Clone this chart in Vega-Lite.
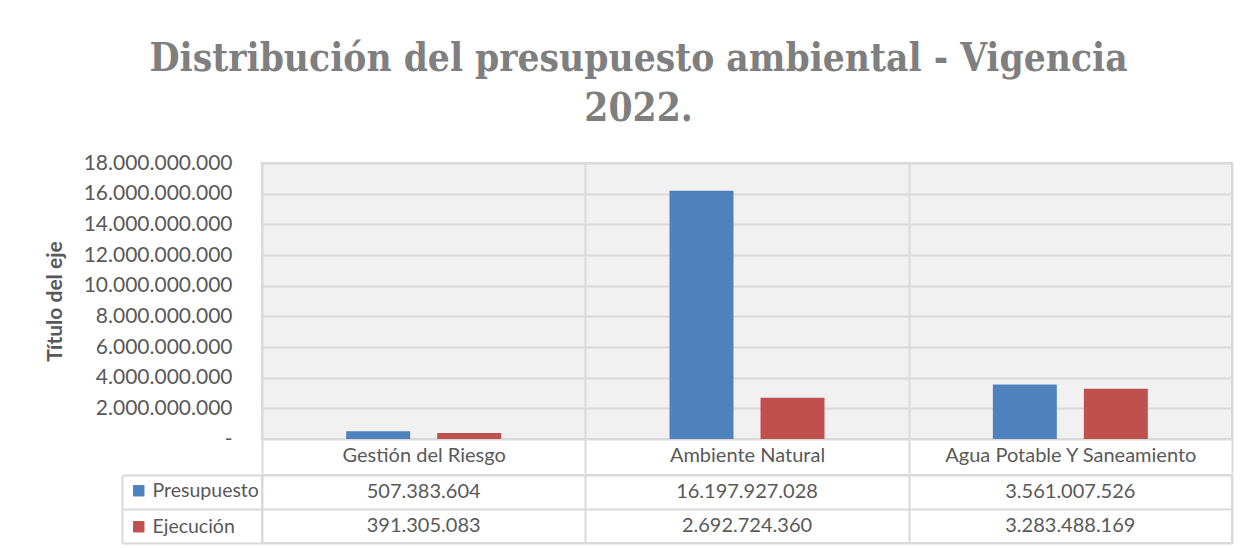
{
  "$schema": "https://vega.github.io/schema/vega-lite/v6.json",
  "padding": {"left": 43, "top": 39, "right": 6, "bottom": 6},
  "background": "white",
  "title": {
    "text": ["Distribución del presupuesto ambiental - Vigencia", "2022."],
    "font": "DejaVu Serif Condensed",
    "fontWeight": "bold",
    "fontSize": 38.5,
    "color": "#7f7f7f",
    "lineHeight": 50,
    "anchor": "middle",
    "offset": 22
  },
  "data": {
    "values": [
      {"categoria": "Gestión del Riesgo", "serie": "Presupuesto", "valor": 507383604},
      {"categoria": "Gestión del Riesgo", "serie": "Ejecución", "valor": 391305083},
      {"categoria": "Ambiente Natural", "serie": "Presupuesto", "valor": 16197927028},
      {"categoria": "Ambiente Natural", "serie": "Ejecución", "valor": 2692724360},
      {"categoria": "Agua Potable Y Saneamiento", "serie": "Presupuesto", "valor": 3561007526},
      {"categoria": "Agua Potable Y Saneamiento", "serie": "Ejecución", "valor": 3283488169}
    ]
  },
  "spacing": -6,
  "resolve": {"scale": {"color": "independent"}},
  "vconcat": [
    {
      "width": 970,
      "height": 276,
      "view": {"fill": "#f1f1f1", "stroke": "#d9d9d9", "strokeWidth": 2},
      "mark": {"type": "bar"},
      "encoding": {
        "x": {
          "field": "categoria", "type": "nominal",
          "sort": ["Gestión del Riesgo", "Ambiente Natural", "Agua Potable Y Saneamiento"],
          "scale": {"paddingInner": 0, "paddingOuter": 0},
          "axis": {
            "title": null, "domain": false, "grid": true, "gridColor": "#d9d9d9", "gridWidth": 2,
            "tickBand": "extent", "ticks": true, "tickSize": 34, "tickColor": "#d9d9d9", "tickWidth": 2,
            "labelPadding": -28, "labelFont": "Lato", "labelFontSize": 20, "labelColor": "#595959", "labelAngle": 0, "labelLimit": 0
          }
        },
        "xOffset": {
          "field": "serie", "type": "nominal", "sort": ["Presupuesto", "Ejecución"],
          "scale": {"paddingInner": 0.297, "paddingOuter": 0.925}
        },
        "y": {
          "field": "valor", "type": "quantitative",
          "scale": {"domain": [0, 18000000000], "nice": false},
          "axis": {
            "values": [0, 2000000000, 4000000000, 6000000000, 8000000000, 10000000000, 12000000000, 14000000000, 16000000000, 18000000000],
            "format": ",d",
            "labelExpr": "datum.value === 0 ? '-' : datum.label",
            "title": "Título del eje",
            "titleFont": "Lato", "titleFontWeight": "bold", "titleFontSize": 21, "titleColor": "#595959", "titlePadding": 18,
            "labelFont": "Lato", "labelFontSize": 21, "labelColor": "#595959", "labelPadding": 30,
            "domain": false, "ticks": false,
            "grid": true, "gridColor": "#d9d9d9", "gridWidth": 2
          }
        },
        "color": {
          "field": "serie", "type": "nominal", "sort": ["Presupuesto", "Ejecución"],
          "scale": {"range": ["#4f81bd", "#c0504d"]},
          "legend": null
        }
      }
    },
    {
      "width": 970,
      "height": 68,
      "view": {"fill": "white", "stroke": "#d9d9d9", "strokeWidth": 2},
      "encoding": {
        "x": {
          "field": "categoria", "type": "nominal",
          "sort": ["Gestión del Riesgo", "Ambiente Natural", "Agua Potable Y Saneamiento"],
          "scale": {"paddingInner": 0, "paddingOuter": 0},
          "axis": {"title": null, "labels": false, "ticks": false, "domain": false, "grid": true, "tickBand": "extent", "gridColor": "#d9d9d9", "gridWidth": 2}
        },
        "y": {
          "field": "serie", "type": "nominal", "sort": ["Presupuesto", "Ejecución"],
          "scale": {"paddingInner": 0, "paddingOuter": 0},
          "axis": {
            "title": null, "labels": false, "offset": 140,
            "domain": true, "domainColor": "#d9d9d9", "domainWidth": 2,
            "ticks": true, "tickSize": -140, "tickColor": "#d9d9d9", "tickWidth": 2, "tickBand": "extent",
            "grid": true, "gridColor": "#d9d9d9", "gridWidth": 2
          }
        }
      },
      "layer": [
        {
          "mark": {"type": "text", "font": "Lato", "fontSize": 20, "color": "#595959"},
          "encoding": {"text": {"field": "valor", "type": "quantitative", "format": ",d"}}
        },
        {
          "mark": {"type": "text"},
          "encoding": {
            "color": {
              "field": "serie", "type": "nominal", "sort": ["Presupuesto", "Ejecución"],
              "scale": {"range": ["#4f81bd", "#c0504d"]},
              "legend": {
                "title": null, "orient": "none", "legendX": -133, "legendY": 6,
                "symbolType": "square", "symbolSize": 130, "symbolStrokeWidth": 0, "symbolOpacity": 1,
                "labelFont": "Lato", "labelFontSize": 19.5, "labelColor": "#595959", "labelOffset": 4,
                "rowPadding": 15, "padding": 0
              }
            }
          }
        }
      ]
    }
  ],
  "config": {
    "locale": {"number": {"decimal": ",", "thousands": ".", "grouping": [3], "currency": ["$", ""]}}
  }
}
